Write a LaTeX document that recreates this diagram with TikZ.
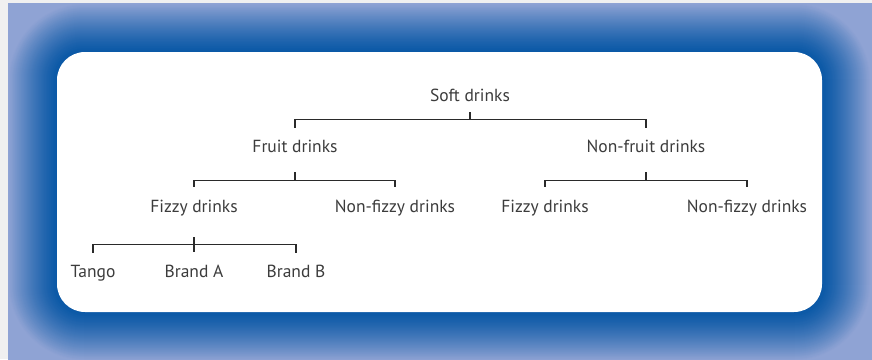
\documentclass[tikz,border=0pt]{standalone}
\usepackage{fontspec}
\setmainfont{PT Sans}
\usepackage{xcolor}
\usepackage{tikz}
\usetikzlibrary{calc}
\usetikzlibrary{positioning}

\definecolor{glowout}{HTML}{8FA3D4}
\definecolor{glowin}{HTML}{0A58A6}
\definecolor{txtgray}{HTML}{3C3C3C}
\definecolor{linegray}{HTML}{2A2A2A}

\begin{document}
\begin{tikzpicture}[x=1pt,y=1pt,-,semithick]
				 \tikzstyle{lbl}=[inner sep=0pt, text height=13pt, text depth=4pt, text=txtgray, font=\fontsize{17.5}{20}\selectfont]
				 \tikzstyle{brk}=[draw=linegray, line width=1.1pt]
				 \useasboundingbox (0,0) rectangle (872,-359);
				 \fill[black!6] (0,0) rectangle (872,-359);
				 % blue glow round the card
				 \begin{scope}
					\clip (8,-3) rectangle (874,-362);
					\fill[glowout] (8,-3) rectangle (874,-362);
					\foreach \s in {49,48,...,0}{
						\pgfmathtruncatemacro\p{100*(1-(\s/49)^1.3)}
						\pgfmathsetmacro\r{28+\s}
						\fill[glowin!\p!glowout, rounded corners=\r pt] (57-\s,-52+\s) rectangle (822+\s,-312-\s);
					}
				 \end{scope}
				 \fill[white, rounded corners=28pt] (57,-52) rectangle (822,-312);
					 \node[lbl]			(S) at (470,-96.5)	{Soft drinks};
					 \node[lbl]			(F) [on grid, below left=51pt and 175pt of S]	{Fruit drinks};
					 \node[lbl]			(N) [on grid, below right=51pt and 176pt of S]	{Non-fruit drinks};
					 \node[lbl]			(FF) [on grid, below left=60pt and 101pt of F]	{Fizzy drinks};
					 \node[lbl]			(FN) [on grid, below right=60pt and 100pt of F]	{Non-fizzy drinks};
					 \node[lbl]			(NF) [on grid, below left=60pt and 101pt of N]	{Fizzy drinks};
					 \node[lbl]			(NN) [on grid, below right=60pt and 101pt of N]	{Non-fizzy drinks};
					 \node[lbl]			(T) [on grid, below left=65pt and 101pt of FF]	{Tango};
					 \node[lbl]			(BA) [on grid, below=65pt of FF]	{Brand A};
					 \node[lbl]			(BB) [on grid, below right=65pt and 102pt of FF]	{Brand B};
				 % brackets
				 \draw[brk] ([yshift=-7pt]S.south) -- ++(0,-7) coordinate (s);
				 \draw[brk] ([yshift=11pt]F.north) |- (s) -| ([yshift=11pt]N.north);
				 \draw[brk] ([yshift=-16pt]F.south) -- ++(0,-8) coordinate (f);
				 \draw[brk] ([yshift=12pt]FF.north) |- (f) -| ([yshift=12pt]FN.north);
				 \draw[brk] ([yshift=-16pt]N.south) -- ++(0,-8) coordinate (n);
				 \draw[brk] ([yshift=12pt]NF.north) |- (n) -| ([yshift=12pt]NN.north);
				 \draw[brk] ([yshift=-21pt]FF.south) -- ([yshift=-36pt]FF.south);
				 \draw[brk] ([yshift=11pt]T.north) -- ++(0,8) -| ([yshift=11pt]BB.north);
\end{tikzpicture}
\end{document}
